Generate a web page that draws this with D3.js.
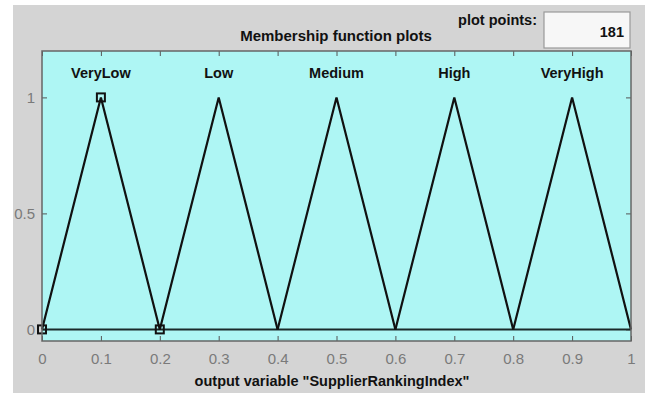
<!DOCTYPE html>
<html>
<head>
<meta charset="utf-8">
<script src="https://cdn.jsdelivr.net/npm/d3@7"></script>
<style>
  body { margin: 0; background: #fff; }
  svg { display: block; font-family: "Liberation Sans", Arial, sans-serif; }
</style>
</head>
<body>
<div class="container"></div>
<script>
(function(d3) {
  "use strict";

  // membership functions of the output variable (trimf params)
  var mfNames = ["VeryLow", "Low", "Medium", "High", "VeryHigh"];
  var mfParams = [
    [0.0, 0.1, 0.2],
    [0.2, 0.3, 0.4],
    [0.4, 0.5, 0.6],
    [0.6, 0.7, 0.8],
    [0.8, 0.9, 1.0]
  ];
  var selectedMf = 0;

  var xTicks = [0, 0.1, 0.2, 0.3, 0.4, 0.5, 0.6, 0.7, 0.8, 0.9, 1];
  var xTickLabels = ["0", "0.1", "0.2", "0.3", "0.4", "0.5", "0.6", "0.7", "0.8", "0.9", "1"];
  var yTicks = [0, 0.5, 1];
  var yTickLabels = ["0", "0.5", "1"];
  var plotPoints = "181";

  var width = 645, height = 396;
  var plot = { left: 42, right: 631, top: 51, bottom: 341 };

  var svg = d3.select(".container").append("svg")
      .attr("width", width)
      .attr("height", height);

  // panel background
  svg.append("rect")
      .attr("x", 13).attr("y", 5)
      .attr("width", width - 13).attr("height", height - 8)
      .style("fill", "#d4d4d4");

  var x = d3.scaleLinear().domain([0, 1]).range([plot.left, plot.right]);
  var y = d3.scaleLinear().domain([-0.05, 1.2]).range([plot.bottom, plot.top]);

  svg.append("rect")
      .attr("x", plot.left).attr("y", plot.top)
      .attr("width", plot.right - plot.left)
      .attr("height", plot.bottom - plot.top)
      .style("fill", "#aef6f4");

  // axes (ticks pointing inward)
  var axisBottom = d3.axisBottom(x).tickValues(xTicks)
      .tickFormat(function(d, i) { return xTickLabels[i]; })
      .tickSizeInner(-5).tickSizeOuter(0).tickPadding(12);
  var axisTop = d3.axisTop(x).tickValues(xTicks)
      .tickFormat("").tickSizeInner(-5).tickSizeOuter(0);
  var axisLeft = d3.axisLeft(y).tickValues(yTicks)
      .tickFormat(function(d, i) { return yTickLabels[i]; })
      .tickSizeInner(-5).tickSizeOuter(0).tickPadding(7);
  var axisRight = d3.axisRight(y).tickValues(yTicks)
      .tickFormat("").tickSizeInner(-5).tickSizeOuter(0);

  function styleAxis(g) {
    g.select(".domain").remove();
    g.selectAll("line").style("stroke", "#555");
    g.selectAll("text")
        .style("fill", "#7a7a7a")
        .style("font-size", "15px");
  }

  svg.append("g").attr("transform", "translate(0," + plot.bottom + ")").call(axisBottom).call(styleAxis);
  svg.append("g").attr("transform", "translate(0," + plot.top + ")").call(axisTop).call(styleAxis);
  svg.append("g").attr("transform", "translate(" + plot.left + ",0)").call(axisLeft).call(styleAxis);
  svg.append("g").attr("transform", "translate(" + plot.right + ",0)").call(axisRight).call(styleAxis);

  // zero line
  svg.append("line")
      .attr("x1", x(0)).attr("x2", x(1))
      .attr("y1", y(0)).attr("y2", y(0))
      .style("stroke", "#1a2a2a")
      .style("stroke-width", 2);

  var line = d3.line()
      .x(function(d) { return x(d[0]); })
      .y(function(d) { return y(d[1]); });

  var mfs = svg.append("g").attr("class", "mfs")
    .selectAll(".mf")
      .data(mfParams)
    .enter().append("g")
      .attr("class", "mf");

  mfs.append("path")
      .attr("d", function(p) { return line([[p[0], 0], [p[1], 1], [p[2], 0]]); })
      .style("fill", "none")
      .style("stroke", "#111")
      .style("stroke-width", 2.2)
      .style("stroke-linejoin", "miter");

  mfs.append("text")
      .attr("x", function(p) { return x(p[1]); })
      .attr("y", y(1) - 19)
      .attr("text-anchor", "middle")
      .style("font-size", "14.5px")
      .style("font-weight", "bold")
      .style("fill", "#111")
      .text(function(p, i) { return mfNames[i]; });

  // square markers on selected MF
  var sel = mfParams[selectedMf];
  svg.append("g").selectAll("rect")
      .data([[sel[0], 0], [sel[1], 1], [sel[2], 0]])
    .enter().append("rect")
      .attr("x", function(d) { return x(d[0]) - 4; })
      .attr("y", function(d) { return y(d[1]) - 4; })
      .attr("width", 8).attr("height", 8)
      .style("fill", "none")
      .style("stroke", "#111")
      .style("stroke-width", 2);

  // plot border
  svg.append("rect")
      .attr("x", plot.left).attr("y", plot.top)
      .attr("width", plot.right - plot.left)
      .attr("height", plot.bottom - plot.top)
      .style("fill", "none")
      .style("stroke", "#666")
      .style("stroke-width", 1.5);

  // titles
  svg.append("text")
      .attr("x", 336).attr("y", 41)
      .attr("text-anchor", "middle")
      .style("font-size", "15px")
      .style("font-weight", "bold")
      .style("fill", "#111")
      .text("Membership function plots");

  svg.append("text")
      .attr("x", 537).attr("y", 25)
      .attr("text-anchor", "end")
      .style("font-size", "14.5px")
      .style("font-weight", "bold")
      .style("fill", "#111")
      .text("plot points:");

  svg.append("rect")
      .attr("x", 544).attr("y", 12)
      .attr("width", 86).attr("height", 36)
      .style("fill", "#f7f7f7")
      .style("stroke", "#999")
      .style("stroke-width", 1.2);

  svg.append("text")
      .attr("x", 624).attr("y", 37)
      .attr("text-anchor", "end")
      .style("font-size", "14.5px")
      .style("font-weight", "bold")
      .style("fill", "#111")
      .text(plotPoints);

  svg.append("text")
      .attr("x", 332).attr("y", 386)
      .attr("text-anchor", "middle")
      .style("font-size", "14.5px")
      .style("font-weight", "bold")
      .style("fill", "#111")
      .text("output variable \"SupplierRankingIndex\"");

}(d3));
</script>
</body>
</html>
